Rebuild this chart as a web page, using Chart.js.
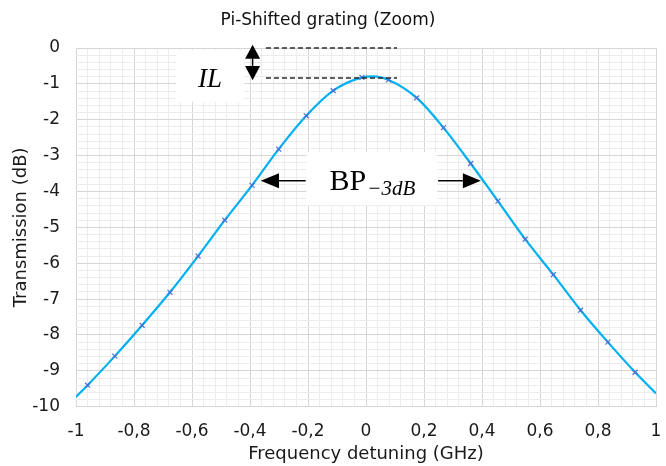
<!DOCTYPE html>
<html><head><meta charset="utf-8">
<script src="https://cdn.jsdelivr.net/npm/chart.js@4/dist/chart.umd.min.js"></script>
<style>html,body{margin:0;padding:0;background:#fff}</style>
</head><body>
<canvas id="c" width="666" height="466"></canvas>
<script>
const chartTitle = 'Pi-Shifted grating (Zoom)';
const xAxisTitle = 'Frequency detuning (GHz)';
const yAxisTitle = 'Transmission (dB)';
const xTickLabels = ['-1','-0,8','-0,6','-0,4','-0,2','0','0,2','0,4','0,6','0,8','1'];
const yTickLabels = ['-10','-9','-8','-7','-6','-5','-4','-3','-2','-1','0'];

// marked samples (x = GHz, y = dB)
const markerX = [-0.960,-0.866,-0.772,-0.676,-0.579,-0.487,-0.393,-0.301,-0.206,-0.113,-0.014,
                  0.078, 0.175, 0.267, 0.361, 0.455, 0.549, 0.646, 0.740, 0.834, 0.928];
const markerY = [-9.40,-8.59,-7.73,-6.81,-5.80,-4.80,-3.83,-2.82,-1.89,-1.19,-0.82,
                 -0.89,-1.39,-2.22,-3.22,-4.27,-5.33,-6.32,-7.31,-8.20,-9.04];
// unmarked points of the curve (ends and peak)
const curveExtraX = [-1, 0.025, 1];
const curveExtraY = [-9.73, -0.79, -9.63];

const markerPts = markerX.map((v,i)=>({x:v, y:markerY[i]}));
const curvePts = markerPts.concat(curveExtraX.map((v,i)=>({x:v, y:curveExtraY[i]}))).sort((a,b)=>a.x-b.x);

const FONT = '"DejaVu Sans", sans-serif';
const MAJOR = '#d6d6d6', MINOR = '#ececec';

const annot = {
  id: 'annot',
  afterDatasetsDraw(chart) {
    const {ctx, scales:{x, y}} = chart;
    const px = v => x.getPixelForValue(v), py = v => y.getPixelForValue(v);
    ctx.save();
    // dashed IL reference lines
    ctx.strokeStyle = '#2a2a2a'; ctx.lineWidth = 1.5; ctx.setLineDash([5,3]);
    for (const yy of [0, -0.83]) {
      const yp = Math.round(py(yy));
      ctx.beginPath(); ctx.moveTo(px(-0.345), yp); ctx.lineTo(px(0.107), yp); ctx.stroke();
    }
    ctx.setLineDash([]);
    // IL box
    ctx.fillStyle = '#fff';
    ctx.fillRect(px(-0.655), py(-0.06), px(-0.421) - px(-0.655), py(-1.5) - py(-0.06));
    ctx.fillStyle = '#000';
    ctx.font = 'italic 27px "Liberation Serif", serif';
    ctx.textAlign = 'center'; ctx.textBaseline = 'alphabetic';
    ctx.fillText('IL', (px(-0.655) + px(-0.421)) / 2, py(-1.08));
    // IL double arrow
    const ax = px(-0.391);
    ctx.beginPath();
    ctx.moveTo(ax, py(0.09)); ctx.lineTo(ax - 7.5, py(-0.3)); ctx.lineTo(ax + 7.5, py(-0.3)); ctx.closePath(); ctx.fill();
    ctx.beginPath();
    ctx.moveTo(ax, py(-0.9)); ctx.lineTo(ax - 7.5, py(-0.5)); ctx.lineTo(ax + 7.5, py(-0.5)); ctx.closePath(); ctx.fill();
    ctx.strokeStyle = '#000'; ctx.lineWidth = 1.5;
    ctx.beginPath(); ctx.moveTo(ax, py(-0.29)); ctx.lineTo(ax, py(-0.5)); ctx.stroke();
    // BP box
    const bx0 = px(-0.2045), bx1 = px(0.245), by0 = py(-2.9), by1 = py(-4.38);
    ctx.fillStyle = '#fff';
    ctx.fillRect(bx0, by0, bx1 - bx0, by1 - by0);
    // arrows
    const ay = py(-3.70);
    ctx.strokeStyle = '#000'; ctx.fillStyle = '#000'; ctx.lineWidth = 1.5;
    ctx.beginPath(); ctx.moveTo(bx0 - 1, ay); ctx.lineTo(px(-0.30), ay); ctx.stroke();
    ctx.beginPath(); ctx.moveTo(px(-0.363), ay); ctx.lineTo(px(-0.30), ay - 7.5); ctx.lineTo(px(-0.30), ay + 7.5); ctx.closePath(); ctx.fill();
    ctx.beginPath(); ctx.moveTo(bx1 + 1, ay); ctx.lineTo(px(0.334), ay); ctx.stroke();
    ctx.beginPath(); ctx.moveTo(px(0.396), ay); ctx.lineTo(px(0.334), ay - 7.5); ctx.lineTo(px(0.334), ay + 7.5); ctx.closePath(); ctx.fill();
    // BP text
    ctx.textAlign = 'left';
    ctx.font = '30px "Liberation Serif", serif';
    const w1 = ctx.measureText('BP').width;
    ctx.font = 'italic 21px "Liberation Serif", serif';
    const w2 = ctx.measureText('\u22123dB').width;
    const sx = (bx0 + bx1) / 2 - (w1 + w2) / 2;
    ctx.font = '30px "Liberation Serif", serif';
    ctx.fillText('BP', sx, py(-3.95));
    ctx.font = 'italic 21px "Liberation Serif", serif';
    ctx.fillText('\u22123dB', sx + w1 + 1, py(-4.1));
    ctx.restore();
  }
};

new Chart(document.getElementById('c'), {
  type: 'scatter',
  data: {
    datasets: [
      {
        label: 'curve', data: curvePts, showLine: true, borderColor: '#00b0f0', borderWidth: 2.2,
        pointRadius: 0, cubicInterpolationMode: 'monotone', order: 2
      },
      {
        label: 'markers', data: markerPts, showLine: false, pointStyle: 'crossRot',
        pointRadius: 3.5, borderColor: '#4a6fd0', borderWidth: 1.2, order: 1
      }
    ]
  },
  options: {
    responsive: false, devicePixelRatio: 1, animation: false,
    layout: { padding: { left: 0, right: 10, top: 0, bottom: 0 } },
    plugins: {
      legend: { display: false }, tooltip: { enabled: false },
      title: { display: true, text: chartTitle, color: '#111',
               font: { family: FONT, size: 17, weight: 'normal' }, padding: { top: 10.5, bottom: 17.1 } }
    },
    scales: {
      x: {
        type: 'linear', position: 'bottom', min: -1, max: 1,
        ticks: { stepSize: 0.04, maxTicksLimit: 1000, padding: 0, color: '#1a1a1a', font: { family: FONT, size: 17 },
                 maxRotation: 0, autoSkip: false,
                 callback: (v, i) => (i % 5 === 0 ? xTickLabels[i / 5] : '') },
        grid: { color: c => (c.index % 5 === 0 ? MAJOR : MINOR), drawTicks: true, tickLength: 15,
                tickColor: 'rgba(0,0,0,0)', lineWidth: 1 },
        border: { display: false },
        title: { display: true, text: xAxisTitle, color: '#1a1a1a', font: { family: FONT, size: 18 }, padding: { top: 0, bottom: 1 } },
        afterFit(s) { s.height = 59.3; }
      },
      y: {
        type: 'linear', position: 'left', min: -10, max: 0,
        ticks: { stepSize: 0.2, maxTicksLimit: 1000, padding: 16, color: '#1a1a1a', font: { family: FONT, size: 17 },
                 autoSkip: false,
                 callback: (v, i) => (i % 5 === 0 ? yTickLabels[i / 5] : '') },
        grid: { color: c => (c.index % 5 === 0 ? MAJOR : MINOR), drawTicks: false, lineWidth: 1 },
        border: { display: false },
        title: { display: true, text: yAxisTitle, color: '#1a1a1a', font: { family: FONT, size: 18 }, padding: { top: 11, bottom: 0 } },
        afterFit(s) { s.width = 76; }
      }
    }
  },
  plugins: [annot]
});
</script>
</body></html>
